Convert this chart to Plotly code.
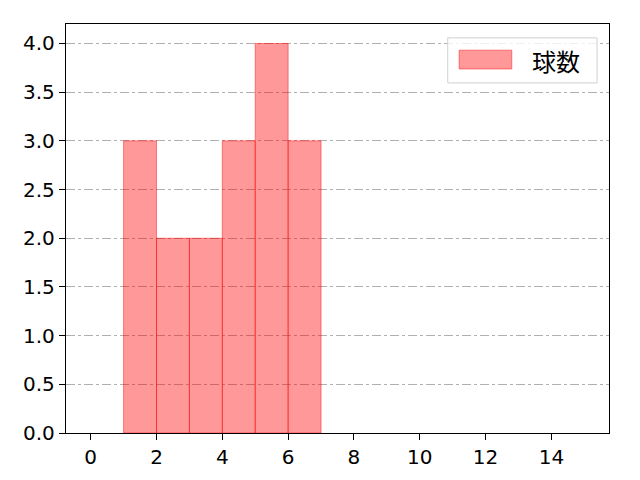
import plotly.graph_objects as go

# histogram bins (left edges) and counts
bin_left = [1, 2, 3, 4, 5, 6]
counts = [3, 2, 2, 3, 4, 3]
x_ticks = [0, 2, 4, 6, 8, 10, 12, 14]
y_ticks = [0.0, 0.5, 1.0, 1.5, 2.0, 2.5, 3.0, 3.5, 4.0]
series_name = '球数'

FONT = 'Noto Sans CJK JP'
TICK_FONT = 'DejaVu Sans'
FILL = 'rgba(255,0,0,0.4)'
EDGE = 'rgba(255,0,0,0.45)'

fig = go.Figure()
fig.add_trace(go.Bar(
    x=[b + 0.5 for b in bin_left], y=counts, width=1,
    name=series_name, showlegend=False,
    marker=dict(color=FILL, line=dict(color=EDGE, width=1)),
))

axis_common = dict(
    showline=True, mirror=True, linecolor='black', linewidth=1.3,
    ticks='outside', ticklen=6, tickwidth=1.2, tickcolor='black',
    tickfont=dict(size=20, color='black', family=TICK_FONT),
    zeroline=False,
)
fig.update_xaxes(range=[-0.75, 15.75], tickvals=x_ticks, showgrid=False, **axis_common)
fig.update_yaxes(range=[0, 4.2], tickvals=y_ticks, ticktext=[f'{v:.1f}' for v in y_ticks],
                 showgrid=True, gridcolor='#b0b0b0', griddash='dashdot', gridwidth=1,
                 **axis_common)

# legend drawn by hand (matplotlib-style wide patch)
fig.add_shape(type='rect', xref='paper', yref='paper', x0=0.703, x1=0.978, y0=0.856, y1=0.966,
              line=dict(color='#d0d0d0', width=1), fillcolor='rgba(255,255,255,0.8)')
fig.add_shape(type='rect', xref='paper', yref='paper', x0=0.724, x1=0.821, y0=0.890, y1=0.936,
              line=dict(color=EDGE, width=1), fillcolor=FILL)
fig.add_annotation(xref='paper', yref='paper', x=0.855, y=0.911, xanchor='left', yanchor='middle',
                   text=series_name, showarrow=False,
                   font=dict(size=24, family=FONT, color='black'))

fig.update_layout(
    width=640, height=480,
    margin=dict(l=58, r=39, t=16, b=55),
    paper_bgcolor='white', plot_bgcolor='white',
    font=dict(family=FONT, color='black'),
)

fig.write_html("out.html")
